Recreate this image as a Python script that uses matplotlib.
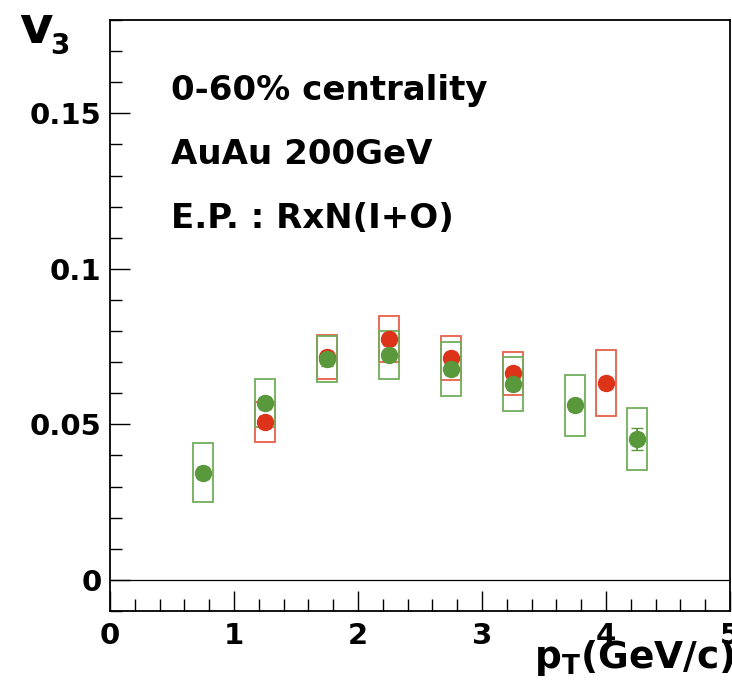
import numpy as np
import matplotlib
matplotlib.use('Agg')
import matplotlib.pyplot as plt
from matplotlib.patches import Rectangle
from matplotlib.ticker import MultipleLocator

#*-*-*-*-*-*-*-*-*-*-*-*-*-*-*- DATA *-*-*-*-*-*-*-*-*-*-*-*-*-*-*-*-*-*-*-*-*-
red_pt = [1.25, 1.75, 2.25, 2.75, 3.25, 4.0]
red_v3 = [0.0508, 0.0716, 0.0774, 0.0713, 0.0665, 0.0633]
red_stat = [0.002, 0.002, 0.002, 0.002, 0.002, 0.002]
red_sys = [0.0065, 0.0070, 0.0074, 0.0071, 0.0069, 0.0105]

green_pt = [0.75, 1.25, 1.75, 2.25, 2.75, 3.25, 3.75, 4.25]
green_v3 = [0.0344, 0.0569, 0.0709, 0.0723, 0.0678, 0.0630, 0.0562, 0.0453]
green_stat = [0.002, 0.002, 0.002, 0.002, 0.002, 0.002, 0.002, 0.0035]
green_sys = [0.0095, 0.0076, 0.0074, 0.0076, 0.0087, 0.0087, 0.0098, 0.0101]

info_lines = ["0-60% centrality", "AuAu 200GeV", "E.P. : RxN(I+O)"]

#*-*-*-*-*-*-*-*-*-*-*-*-*-*-*- STYLE *-*-*-*-*-*-*-*-*-*-*-*-*-*-*-*-*-*-*-*-
plt.rcParams['mathtext.fontset'] = 'dejavusans'
W, H = 732, 691
box_hw = 0.08
red_col, red_box = '#dc3319', '#e8604a'
green_col, green_box = '#5a983c', '#72ad5c'
tick_font = dict(family='DejaVu Sans', weight='bold', size=21)

fig = plt.figure(figsize=(W/100, H/100), dpi=100)
ax = fig.add_axes([110/W, 1 - 611/H, 620/W, 591/H])

ax.axhline(0, color='black', lw=0.9, zorder=1)

# systematic boxes
for x, y, s in zip(red_pt, red_v3, red_sys):
    ax.add_patch(Rectangle((x - box_hw, y - s), 2*box_hw, 2*s, fill=False,
                           ec=red_box, lw=1.3, zorder=2))
for x, y, s in zip(green_pt, green_v3, green_sys):
    ax.add_patch(Rectangle((x - box_hw, y - s), 2*box_hw, 2*s, fill=False,
                           ec=green_box, lw=1.3, zorder=3))

# points with stat errors
ax.errorbar(red_pt, red_v3, yerr=red_stat, fmt='o', color=red_col, ms=11.5,
            elinewidth=1.3, capsize=4, zorder=4)
ax.errorbar(green_pt, green_v3, yerr=green_stat, fmt='o', color=green_col, ms=11.5,
            elinewidth=1.3, capsize=4, zorder=5)

ax.set_xlim(0, 5)
ax.set_ylim(-0.01, 0.18)
ax.xaxis.set_minor_locator(MultipleLocator(0.2))
ax.yaxis.set_minor_locator(MultipleLocator(0.01))
ax.set_xticks([0, 1, 2, 3, 4, 5])
ax.set_xticklabels(['0', '1', '2', '3', '4', '5'], **tick_font)
ax.set_yticks([0, 0.05, 0.1, 0.15])
ax.set_yticklabels(['0', '0.05', '0.1', '0.15'], **tick_font)
ax.tick_params(which='major', direction='in', length=14.5, width=1.0, pad=6,
               top=False, right=False)
ax.tick_params(which='minor', direction='in', length=8.5, width=1.0,
               top=False, right=False)
ax.tick_params(axis='x', which='major', pad=8)
for sp in ax.spines.values():
    sp.set_linewidth(1.3)

# info text
for i, line in enumerate(info_lines):
    ax.text(171/W, 1 - (100 + 64*i)/H, line, transform=fig.transFigure,
            family='DejaVu Sans', weight='bold', size=24.5, va='baseline', ha='left')

# axis titles
fig.text(19/W, 1 - 43/H, 'v', family='DejaVu Sans', weight='bold', size=37,
         va='baseline', ha='left')
fig.text(50/W, 1 - 54/H, '3', family='DejaVu Sans', weight='bold', size=20,
         va='baseline', ha='left')
fig.text(734/W, 1 - 668/H, r'$\mathbf{p_{T}(GeV/c)}$', size=27,
         va='baseline', ha='right')

fig.savefig('out.png', dpi=100)
